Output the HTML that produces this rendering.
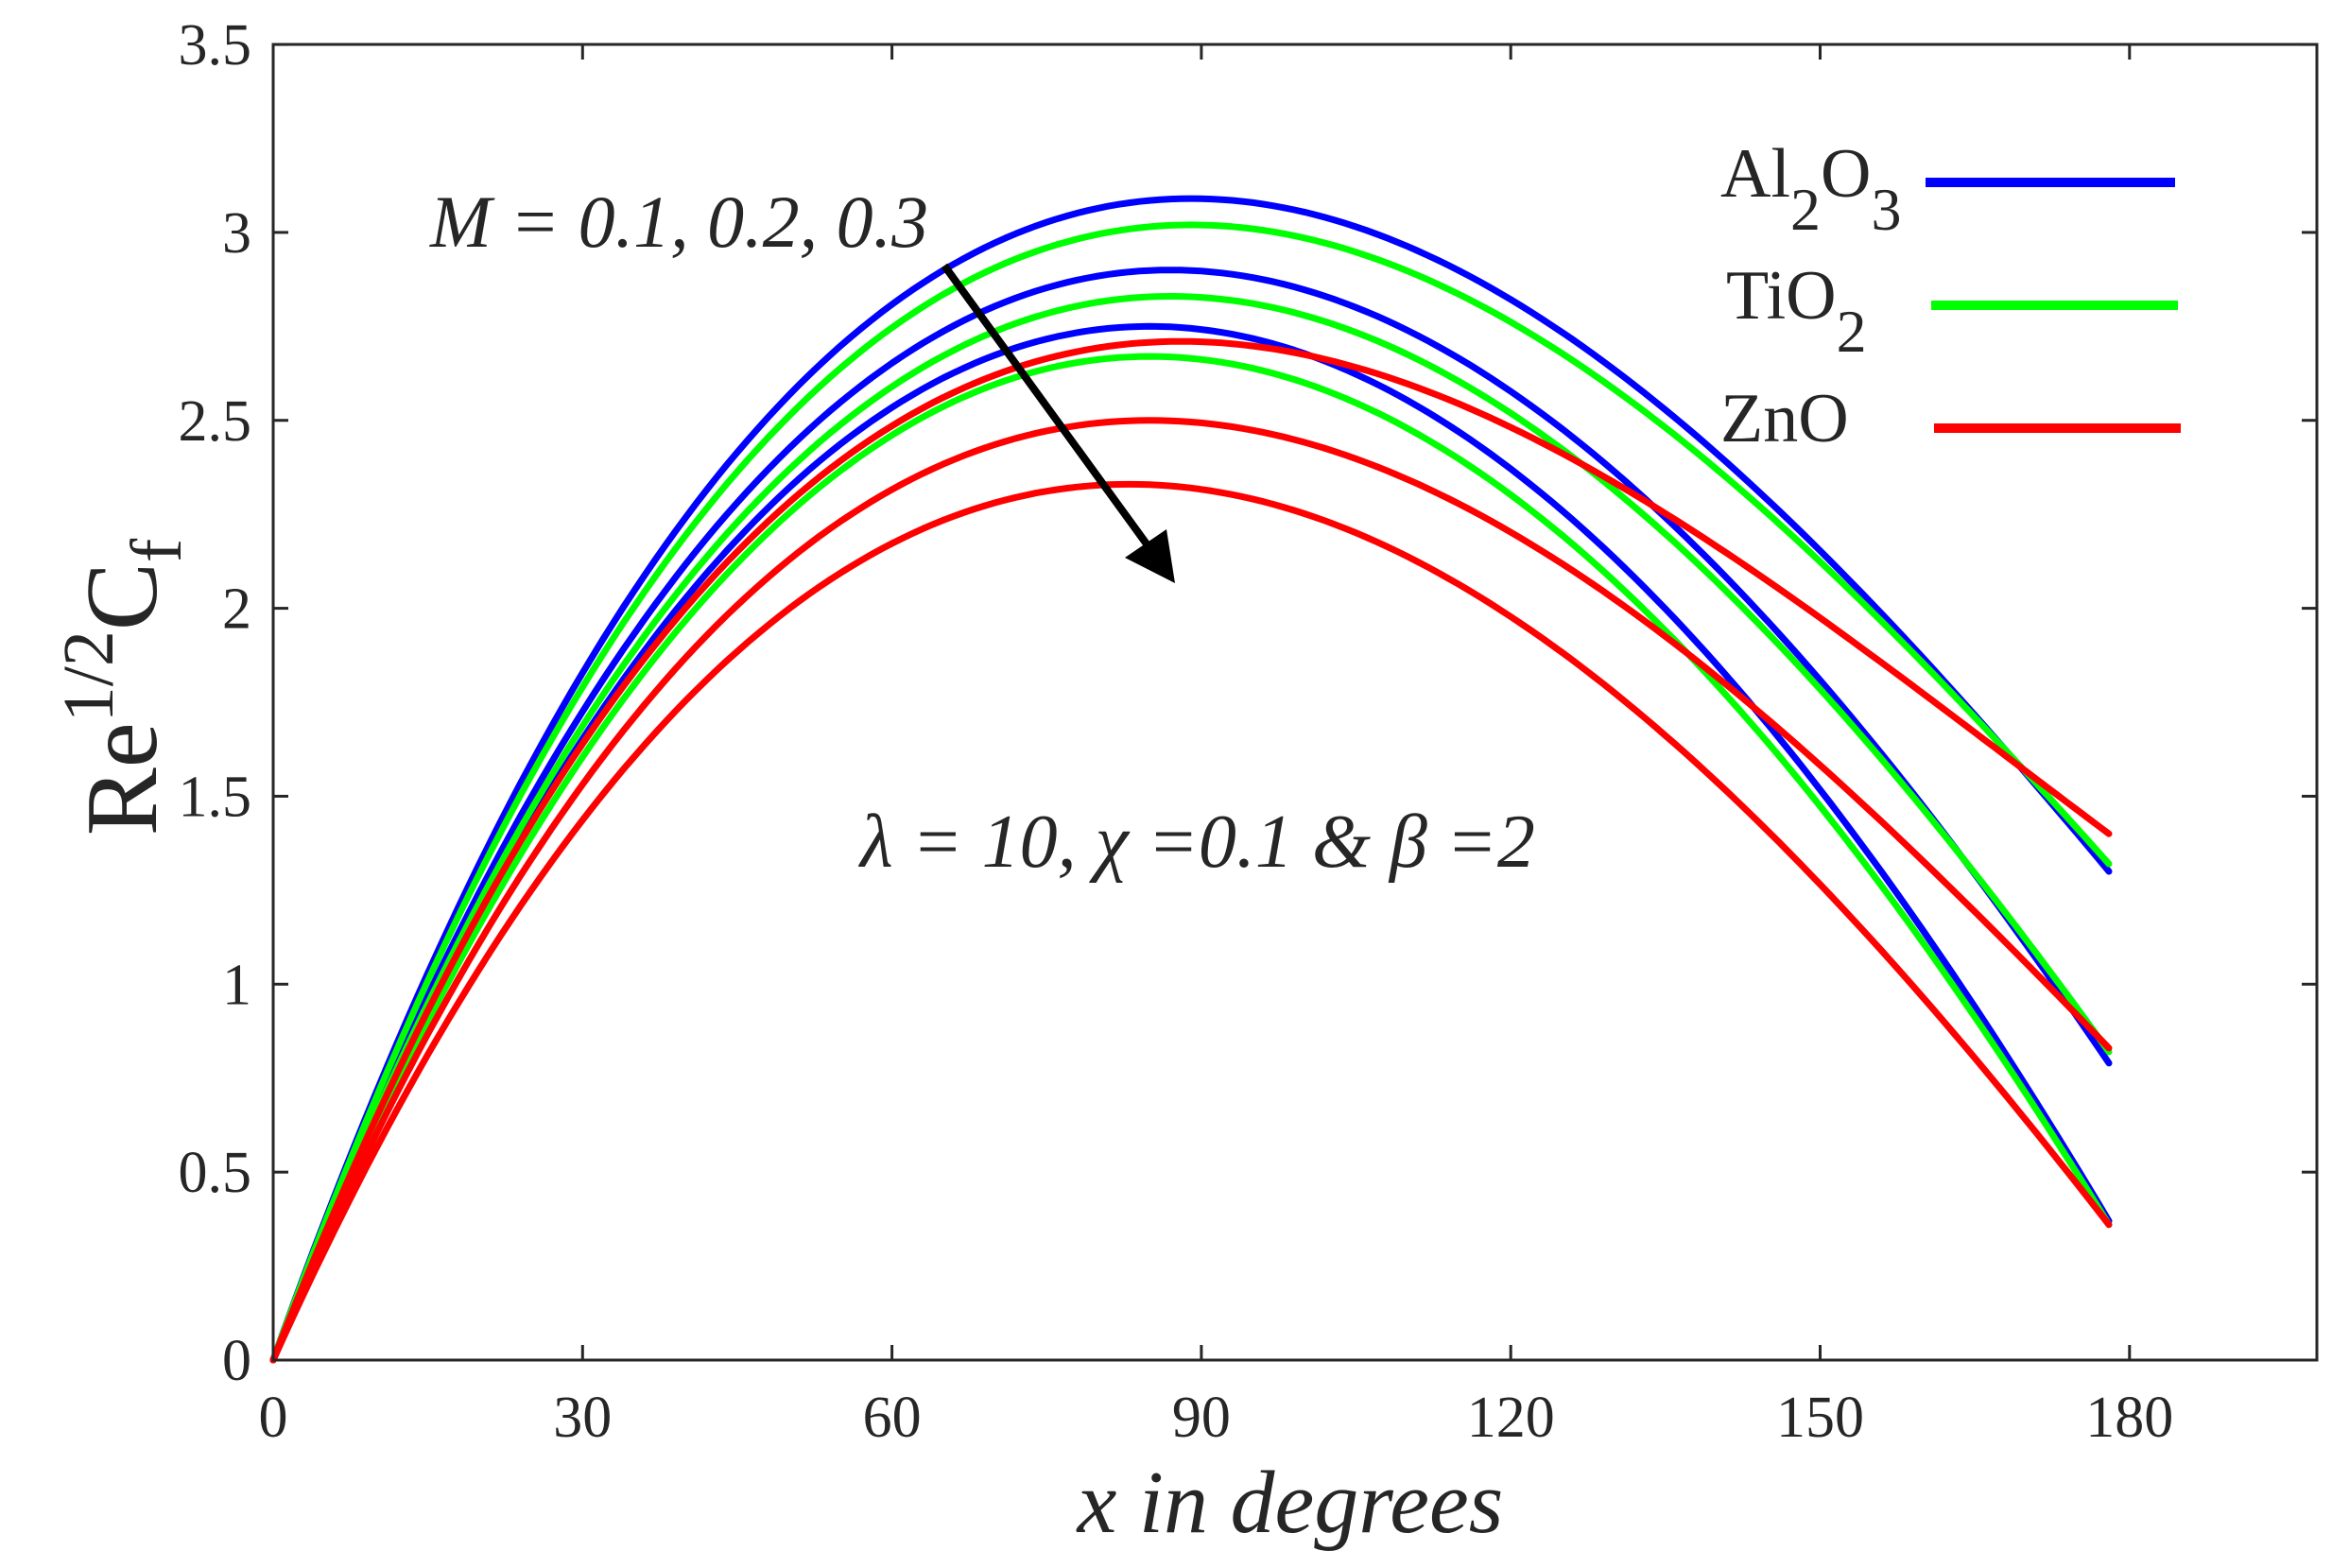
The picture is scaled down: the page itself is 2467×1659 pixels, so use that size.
<!DOCTYPE html>
<html><head><meta charset="utf-8"><style>
html,body{margin:0;padding:0;background:#fff}
svg{display:block}
text{font-family:"Liberation Serif",serif;fill:#262626}
</style></head><body>
<svg id="s" width="2467" height="1659" viewBox="0 0 2467 1659" xmlns="http://www.w3.org/2000/svg">
<rect width="2467" height="1659" fill="#fff"/>
<g id="curves" fill="none" stroke-width="7" stroke-linejoin="round" stroke-linecap="round"></g>
<rect x="289" y="47" width="2162" height="1392" fill="none" stroke="#262626" stroke-width="3"/>
<g id="ticks" stroke="#262626" stroke-width="3"></g>
<g id="labels" font-size="62" text-anchor="middle"></g>
<!-- arrow -->
<line x1="999" y1="281" x2="1222" y2="588" stroke="#000" stroke-width="8"/>
<polygon points="1243,617 1190,590 1234,560" fill="#000"/>
<text x="455" y="261" font-size="78" font-style="italic" fill="#000">M = 0.1, 0.2, 0.3</text>
<text x="910" y="917" font-size="80" font-style="italic" fill="#000">λ = 10, χ =0.1 &amp; β =2</text>
<!-- legend -->
<text x="1820" y="208" font-size="74" fill="#000">Al<tspan font-size="64" dy="35">2</tspan><tspan dy="-35">O</tspan><tspan font-size="64" dy="35">3</tspan></text>
<line x1="2037" y1="193" x2="2301" y2="193" stroke="#0000ff" stroke-width="10"/>
<text x="1826" y="337" font-size="74" fill="#000">TiO<tspan font-size="64" dy="35">2</tspan></text>
<line x1="2043" y1="323" x2="2304" y2="323" stroke="#00ff00" stroke-width="10"/>
<text x="1820" y="467" font-size="74" fill="#000">ZnO</text>
<line x1="2046" y1="453" x2="2307" y2="453" stroke="#ff0000" stroke-width="10"/>
<!-- axis labels -->
<text x="1365" y="1621" font-size="94" font-style="italic" text-anchor="middle">x in degrees</text>
<text transform="translate(165,727) rotate(-90)" font-size="108" text-anchor="middle">Re<tspan font-size="76" dy="-46">1/2</tspan><tspan dy="46">C</tspan><tspan font-size="76" dy="26">f</tspan></text>
</svg>
<script>
var X0=289,XS=10.91,Y0=1439,YS=397.7;
function px(x){return X0+x*XS} function py(y){return Y0-y*YS}
var t=document.getElementById('ticks'),l=document.getElementById('labels'),ns='http://www.w3.org/2000/svg';
function el(p,n,a,txt){var e=document.createElementNS(ns,n);for(var k in a)e.setAttribute(k,a[k]);if(txt!=null)e.textContent=txt;p.appendChild(e);}
for(var x=0;x<=180;x+=30){var X=px(x);el(t,'line',{x1:X,y1:1439,x2:X,y2:1423});el(t,'line',{x1:X,y1:47,x2:X,y2:63});el(l,'text',{x:X,y:1520},String(x));}
for(var i=0;i<=7;i++){var y=i*0.5,Y=py(y);el(t,'line',{x1:289,y1:Y,x2:305,y2:Y});el(t,'line',{x1:2451,y1:Y,x2:2435,y2:Y});el(l,'text',{x:266,y:Y+21,'text-anchor':'end'},String(y));}
function solve(A,b){var n=3;for(var i=0;i<n;i++){var m=i;for(var r=i+1;r<n;r++)if(Math.abs(A[r][i])>Math.abs(A[m][i]))m=r;var tmp=A[i];A[i]=A[m];A[m]=tmp;tmp=b[i];b[i]=b[m];b[m]=tmp;for(var r=i+1;r<n;r++){var f=A[r][i]/A[i][i];for(var c=i;c<n;c++)A[r][c]-=f*A[i][c];b[r]-=f*b[i];}}var x=[0,0,0];for(var i=n-1;i>=0;i--){var s=b[i];for(var c=i+1;c<n;c++)s-=A[i][c]*x[c];x[i]=s/A[i][i];}return x;}
var D=Math.PI/180;
var curves=[
['#ff0000',83,2.33,0.36],['#ff0000',85,2.50,0.83],['#ff0000',88,2.71,1.40],
['#00ff00',85,2.67,0.36],['#00ff00',87,2.83,0.82],['#00ff00',89,3.02,1.32],
['#0000ff',85,2.75,0.37],['#0000ff',87,2.90,0.79],['#0000ff',89,3.09,1.30]];
var order=[6,3,7,4,8,5,0,1,2];
var g=document.getElementById('curves');
order.forEach(function(k){var c=curves[k];var tp=c[1]*D,te=178*D;
var s=solve([[tp,tp*tp,tp*tp*tp],[1,2*tp,3*tp*tp],[te,te*te,te*te*te]],[c[2],0,c[3]]);
var d='';for(var x=0;x<=178;x+=1){var tt=x*D;var v=s[0]*tt+s[1]*tt*tt+s[2]*tt*tt*tt;d+=(x?'L':'M')+px(x).toFixed(1)+' '+py(v).toFixed(1);}
el(g,'path',{d:d,stroke:c[0]});});
</script>
</body></html>
